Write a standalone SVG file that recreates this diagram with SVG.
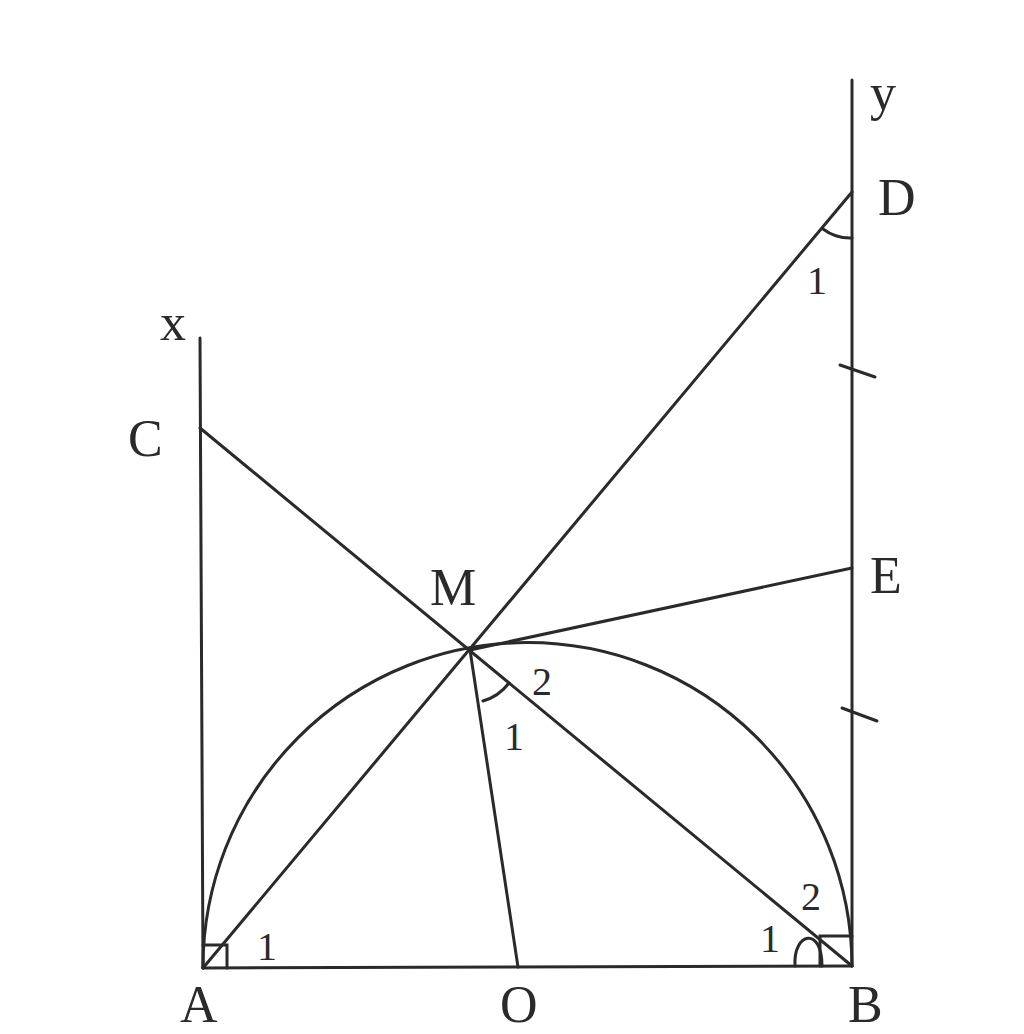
<svg xmlns="http://www.w3.org/2000/svg" width="1024" height="1034" viewBox="0 0 1024 1034">
<style>
.l{stroke:#2a2a2a;stroke-width:3;fill:none;stroke-linecap:round}
.t{font-family:"Liberation Serif","Times New Roman",serif;fill:#2a2a2a;font-size:52px}
.n{font-family:"Liberation Serif","Times New Roman",serif;fill:#2a2a2a;font-size:40px}
</style>
<rect width="1024" height="1034" fill="#fff"/>
<g id="connectors">
<line class="l" x1="200" y1="338" x2="203" y2="968"/>
<line class="l" x1="852" y1="80" x2="852" y2="966"/>
<line class="l" x1="203" y1="968" x2="852" y2="966"/>
<path class="l" d="M203 968 A324.5 324.5 0 0 1 852 966"/>
<line class="l" x1="200" y1="428" x2="852" y2="966"/>
<line class="l" x1="203" y1="968" x2="852" y2="192"/>
<line class="l" x1="470" y1="650" x2="852" y2="568"/>
<line class="l" x1="470" y1="650" x2="518" y2="967"/>
<line class="l" x1="840" y1="365" x2="875" y2="377"/>
<line class="l" x1="842" y1="708" x2="877" y2="721"/>
<path class="l" d="M203 945 L227 945 L227 968"/>
<path class="l" d="M820 966 L820 936 L852 936"/>
<path class="l" d="M483 701 A50 50 0 0 0 509 683"/>
<path class="l" d="M823 229 A45 45 0 0 0 852 238"/>
<path class="l" d="M795 966 C793 932 822 926 822 966"/>
</g>
<g id="A"><text class="t" x="180" y="1022">A</text><text class="n" x="257" y="960">1</text></g>
<g id="B"><text class="t" x="848" y="1022">B</text><text class="n" x="760" y="952">1</text><text class="n" x="801" y="910">2</text></g>
<g id="O"><text class="t" x="500" y="1022">O</text></g>
<g id="M"><text class="t" x="430" y="605">M</text><text class="n" x="532" y="695">2</text><text class="n" x="504" y="750">1</text></g>
<g id="C"><text class="t" x="128" y="456">C</text></g>
<g id="x"><text class="t" x="160" y="340">x</text></g>
<g id="y"><text class="t" x="870" y="110">y</text></g>
<g id="D"><text class="t" x="878" y="215">D</text><text class="n" x="807" y="294">1</text></g>
<g id="E"><text class="t" x="870" y="593">E</text></g>
</svg>
